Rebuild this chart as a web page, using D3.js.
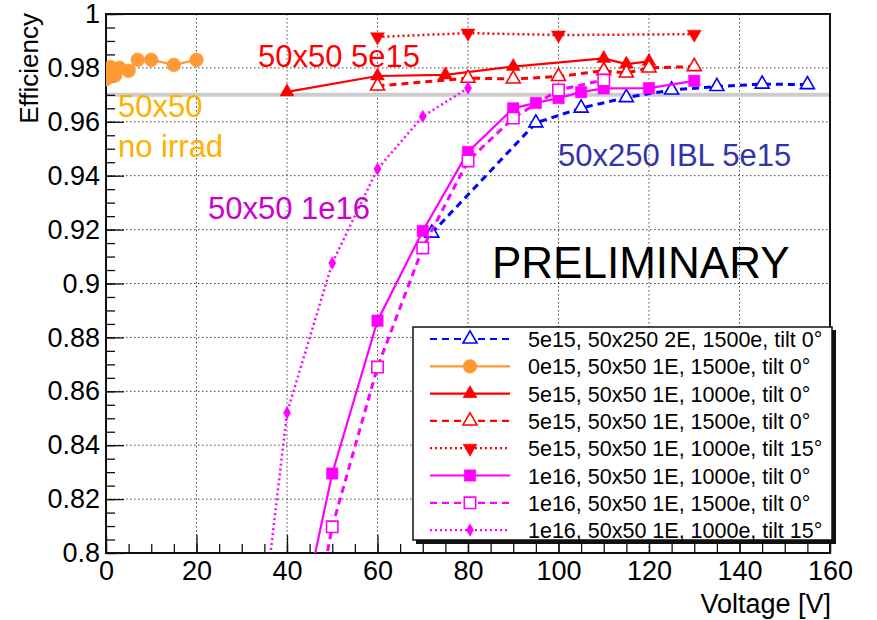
<!DOCTYPE html>
<html>
<head>
<meta charset="utf-8">
<script src="https://cdn.jsdelivr.net/npm/d3@7"></script>
<style>
  body { margin: 0; background: #fff; }
  text { font-family: "Liberation Sans", Arial, sans-serif; }
</style>
</head>
<body>
<svg id="chart" width="877" height="620"></svg>
<script>
// efficiency vs bias voltage
var volt_ibl = [72, 95, 105, 115, 125, 135, 145, 155];
var eff_ibl  = [0.9187, 0.9596, 0.9651, 0.9690, 0.9718, 0.9731, 0.9740, 0.9738];

var volt_noirr = [0, 1, 2, 3, 5, 7, 10, 15, 20];
var eff_noirr  = [0.9758, 0.9803, 0.9772, 0.9800, 0.9789, 0.9830, 0.9830, 0.9811, 0.9830];

var volt_5e15_1000 = [40, 60, 75, 90, 110, 115, 120];
var eff_5e15_1000  = [0.9711, 0.9770, 0.9774, 0.9805, 0.9835, 0.9814, 0.9824];

var volt_5e15_1500 = [60, 80, 90, 100, 110, 115, 120, 130];
var eff_5e15_1500  = [0.9733, 0.9762, 0.9759, 0.9768, 0.9790, 0.9781, 0.9800, 0.9805];

var volt_5e15_t15 = [60, 80, 100, 130];
var eff_5e15_t15  = [0.9915, 0.9929, 0.9922, 0.9925];

var volt_1e16_1000 = [40, 50, 60, 70, 80, 90, 95, 100, 105, 110, 120, 130];
var eff_1e16_1000  = [0.751, 0.8295, 0.8862, 0.9195, 0.9488, 0.9650, 0.9670, 0.9688, 0.9710, 0.9724, 0.9725, 0.9752];

var volt_1e16_1500 = [40, 50, 60, 70, 80, 90, 100, 110];
var eff_1e16_1500  = [0.722, 0.8097, 0.8690, 0.9132, 0.9455, 0.9614, 0.9718, 0.9755];

var volt_1e16_t15 = [30, 40, 50, 60, 70, 80];
var eff_1e16_t15  = [0.709, 0.8520, 0.9076, 0.9425, 0.9620, 0.9725];

var xTicks = [0, 20, 40, 60, 80, 100, 120, 140, 160];
var yTicks = [0.8, 0.82, 0.84, 0.86, 0.88, 0.9, 0.92, 0.94, 0.96, 0.98, 1];
var refLine = 0.97;

var series = [
  {name: "5e15, 50x250 2E, 1500e, tilt 0\u00b0", v: volt_ibl, e: eff_ibl, color: "#0000ff", dash: "7,5", sym: "tri", fill: false},
  {name: "0e15, 50x50 1E, 1500e, tilt 0\u00b0", v: volt_noirr, e: eff_noirr, color: "#ff9933", dash: null, sym: "circle", fill: true},
  {name: "5e15, 50x50 1E, 1000e, tilt 0\u00b0", v: volt_5e15_1000, e: eff_5e15_1000, color: "#ff0000", dash: null, sym: "tri", fill: true},
  {name: "5e15, 50x50 1E, 1500e, tilt 0\u00b0", v: volt_5e15_1500, e: eff_5e15_1500, color: "#ff0000", dash: "7,5", sym: "tri", fill: false},
  {name: "5e15, 50x50 1E, 1000e, tilt 15\u00b0", v: volt_5e15_t15, e: eff_5e15_t15, color: "#ff0000", dash: "2,3", sym: "down", fill: true},
  {name: "1e16, 50x50 1E, 1000e, tilt 0\u00b0", v: volt_1e16_1000, e: eff_1e16_1000, color: "#ff00ff", dash: null, sym: "square", fill: true},
  {name: "1e16, 50x50 1E, 1500e, tilt 0\u00b0", v: volt_1e16_1500, e: eff_1e16_1500, color: "#ff00ff", dash: "7,5", sym: "square", fill: false},
  {name: "1e16, 50x50 1E, 1000e, tilt 15\u00b0", v: volt_1e16_t15, e: eff_1e16_t15, color: "#ff00ff", dash: "2,3", sym: "diamond", fill: true}
];

var svg = d3.select("#chart");
var L = 106, R = 830, T = 14, B = 553;
var x = d3.scaleLinear().domain([0, 160]).range([L, R]);
var y = d3.scaleLinear().domain([0.8, 1]).range([B, T]);

svg.append("clipPath").attr("id", "plotclip")
  .append("rect").attr("x", L).attr("y", T).attr("width", R - L).attr("height", B - T);

// grid
var grid = svg.append("g");
grid.selectAll("line.gx").data(xTicks.slice(1, -1)).enter().append("line")
  .attr("x1", function(d) { return x(d); }).attr("x2", function(d) { return x(d); })
  .attr("y1", T).attr("y2", B)
  .attr("stroke", "#444").attr("stroke-width", 1).attr("stroke-dasharray", "1.5,2.5");
grid.selectAll("line.gy").data(yTicks.slice(1, -1)).enter().append("line")
  .attr("x1", L).attr("x2", R)
  .attr("y1", function(d) { return y(d); }).attr("y2", function(d) { return y(d); })
  .attr("stroke", "#444").attr("stroke-width", 1).attr("stroke-dasharray", "1.5,2.5");

// reference line
svg.append("line").attr("x1", L).attr("x2", R).attr("y1", y(refLine)).attr("y2", y(refLine))
  .attr("stroke", "#cccccc").attr("stroke-width", 4);

// axes (ticks inside)
var minorX = d3.range(0, 161, 5);
var minorY = d3.range(0, 41).map(function(i) { return 0.8 + i * 0.005; });
svg.append("g").attr("transform", "translate(0," + B + ")")
  .call(d3.axisBottom(x).tickValues(minorX).tickSize(-9).tickFormat(""))
  .call(function(g) { g.select(".domain").remove(); });
var xa = svg.append("g").attr("transform", "translate(0," + B + ")")
  .call(d3.axisBottom(x).tickValues(xTicks).tickSize(-18).tickPadding(8).tickFormat(d3.format("d")));
xa.select(".domain").remove();
xa.selectAll("text").attr("font-size", 27).attr("fill", "#000").attr("dy", "0.71em");
svg.append("g").attr("transform", "translate(" + L + ",0)")
  .call(d3.axisLeft(y).tickValues(minorY).tickSize(-9).tickFormat(""))
  .call(function(g) { g.select(".domain").remove(); });
var ya = svg.append("g").attr("transform", "translate(" + L + ",0)")
  .call(d3.axisLeft(y).tickValues(yTicks).tickSize(-18).tickPadding(6).tickFormat(function(d) { return d3.format("")(+d.toFixed(2)); }));
ya.select(".domain").remove();
ya.selectAll("text").attr("font-size", 27).attr("fill", "#000");
svg.selectAll(".tick line").attr("stroke", "#111").attr("stroke-width", 1.3);

// frame
svg.append("rect").attr("x", L).attr("y", T).attr("width", R - L).attr("height", B - T)
  .attr("fill", "none").attr("stroke", "#111").attr("stroke-width", 2);

function symPath(s) {
  if (s === "circle") return d3.symbol(d3.symbolCircle, 150)();
  if (s === "square") return d3.symbol(d3.symbolSquare, 130)();
  if (s === "diamond") return d3.symbol(d3.symbolDiamond, 45)();
  return d3.symbol(d3.symbolTriangle, 85)();
}

var plot = svg.append("g").attr("clip-path", "url(#plotclip)");
var line = d3.line().x(function(d) { return x(d[0]); }).y(function(d) { return y(d[1]); });

series.forEach(function(s) {
  var pts = s.v.map(function(v, i) { return [v, s.e[i]]; });
  plot.append("path").datum(pts).attr("d", line)
    .attr("fill", "none").attr("stroke", s.color)
    .attr("stroke-width", s.dash === "2,3" ? 2.5 : (s.dash ? 3 : 2.2))
    .attr("stroke-dasharray", s.dash);
  plot.selectAll(null).data(pts).enter().append("path")
    .attr("d", symPath(s.sym))
    .attr("transform", function(d) {
      return "translate(" + x(d[0]) + "," + y(d[1]) + ")" + (s.sym === "down" ? " rotate(180)" : "");
    })
    .attr("fill", s.fill ? s.color : "#fff")
    .attr("stroke", s.color).attr("stroke-width", s.fill ? 0.5 : 1.6);
});

// legend
var lg = svg.append("g");
lg.append("rect").attr("x", 416).attr("y", 330).attr("width", 420).attr("height", 214).attr("fill", "#111");
lg.append("rect").attr("x", 413).attr("y", 327).attr("width", 419).attr("height", 213)
  .attr("fill", "#fff").attr("stroke", "#111").attr("stroke-width", 1.5);
series.forEach(function(s, i) {
  var ry = 339 + i * 27.3;
  lg.append("line").attr("x1", 430).attr("x2", 510).attr("y1", ry).attr("y2", ry)
    .attr("stroke", s.color).attr("stroke-width", s.dash ? 2.2 : 2.2).attr("stroke-dasharray", s.dash);
  lg.append("path").attr("d", symPath(s.sym))
    .attr("transform", "translate(470," + ry + ")" + (s.sym === "down" ? " rotate(180)" : ""))
    .attr("fill", s.fill ? s.color : "#fff")
    .attr("stroke", s.color).attr("stroke-width", s.fill ? 0.5 : 1.6);
  lg.append("text").attr("x", 528).attr("y", ry + 8).attr("font-size", 21.5).attr("fill", "#000").text(s.name);
});

// annotations
function note(t, px, py, col, fs) {
  svg.append("text").attr("x", px).attr("y", py).attr("font-size", fs).attr("fill", col).text(t);
}
note("50x50 5e15", 258, 67, "#ff0000", 31);
note("50x50", 118, 117, "#ffb000", 31);
note("no irrad", 118, 157, "#ffb000", 31);
note("50x250 IBL 5e15", 558, 166, "#3333aa", 31);
note("50x50 1e16", 208, 219, "#cc00cc", 31);
note("PRELIMINARY", 492, 278, "#000", 44);

// axis titles
svg.append("text").attr("transform", "translate(38,13) rotate(-90)")
  .attr("text-anchor", "end").attr("font-size", 26).text("Efficiency");
svg.append("text").attr("x", 831).attr("y", 613).attr("text-anchor", "end")
  .attr("font-size", 27).text("Voltage [V]");
</script>
</body>
</html>
